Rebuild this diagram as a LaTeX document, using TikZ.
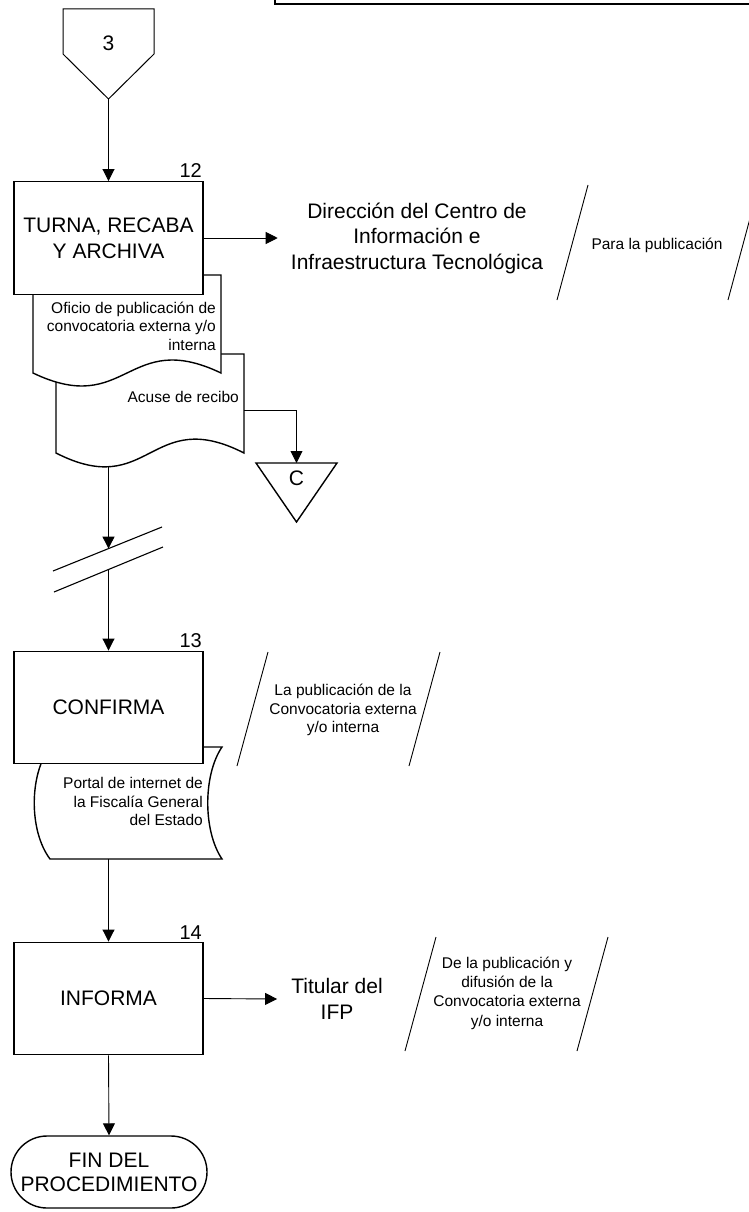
\documentclass[tikz,border=0pt]{standalone}
\usepackage{fontspec}
\setmainfont{Liberation Sans}
\usetikzlibrary{arrows.meta}
\begin{document}
\begin{tikzpicture}[x=1pt,y=-1pt,
  shapeline/.style={draw=black, line width=1.4pt, fill=white},
  procbox/.style={draw=black, line width=1.4pt, fill=white, minimum width=189pt, minimum height=112.5pt, inner sep=0pt, align=center, font=\fontsize{21}{26}\selectfont},
  bigtext/.style={align=center, inner sep=0pt, font=\fontsize{21}{25.5}\selectfont},
  smalltext/.style={align=center, inner sep=0pt, font=\fontsize{15.5}{18.5}\selectfont},
  numlabel/.style={anchor=base east, inner sep=0pt, font=\fontsize{20}{24}\selectfont},
  conn/.style={draw=black, line width=0.9pt},
  arrowc/.style={conn, -{Triangle[length=12pt,width=12pt]}},
  slash/.style={draw=black, line width=0.9pt},
]
\useasboundingbox (0,0) rectangle (749,1212);

% top-right frame remnant
\draw[line width=1.7pt] (275.3,-5) -- (275.3,4.3) -- (760,4.3);

% off-page connector 3
\path[shapeline, line width=1pt] (63,9) -- (154,9) -- (154,54) -- (108.5,99) -- (63,54) -- cycle;
\node[bigtext] (off3) at (108.5,43) {3};
\coordinate (off3tip) at (108.5,99);

% documents behind box 12
\path[shapeline] (56,354) -- (244,354) -- (244,453) .. controls (150,405) and (150,501) .. (56,453) -- cycle;
\path[shapeline] (33,275) -- (221,275) -- (221,373) .. controls (127,328) and (127,418) .. (33,373) -- cycle;
\node[procbox] (box12) at (108.5,238) {TURNA, RECABA\\Y ARCHIVA};
\node[numlabel] (n12) at (202,177) {12};
\node[smalltext, align=right, anchor=east] (oficio) at (216,326) {Oficio de publicación de\\convocatoria externa y/o\\interna};
\node[smalltext, anchor=east] (acuse) at (239,397) {Acuse de recibo};
\coordinate (doc2r) at (244,410);
\coordinate (doc2b) at (108.5,466.5);

\draw[arrowc] (off3tip) -- (box12.north);

% destination and flow label 1
\node[bigtext, inner xsep=13pt] (dir) at (417,238) {Dirección del Centro de\\Información e\\Infraestructura Tecnológica};
\draw[arrowc] (box12.east) -- (dir.west);
\draw[slash] (588,185) -- (557,300);
\draw[slash] (759,185) -- (728,300);
\node[smalltext] (p1) at (657,245) {Para la publicación};

% connector C
\path[shapeline] (256,463) -- (337,463) -- (296.5,522) -- cycle;
\node[bigtext] (ctri) at (296.5,478) {C};
\coordinate (ctop) at (296.5,463);
\draw[arrowc] (doc2r) -| (ctop);

% break
\coordinate (brk1) at (108.5,548.6);
\coordinate (brk2) at (108.5,569.5);
\draw[arrowc] (doc2b) -- (brk1);
\draw[line width=1.1pt] (53,571) -- (162,527);
\draw[line width=1.1pt] (54,592) -- (163,547);

% step 13
\path[shapeline] (50,747) -- (222,747) .. controls (203,775) and (203,831) .. (222,859) -- (50,859) .. controls (29,831) and (29,775) .. (50,747) -- cycle;
\node[procbox] (box13) at (108.5,707.5) {CONFIRMA};
\node[numlabel] (n13) at (202,647) {13};
\node[smalltext, align=right, anchor=east] (portal) at (203,801.5) {Portal de internet de\\la Fiscalía General\\del Estado};
\coordinate (doc3b) at (108.5,859);
\draw[arrowc] (brk2) -- (box13.north);
\draw[slash] (268,652) -- (237,766);
\draw[slash] (440,652) -- (409,766);
\node[smalltext] (p2) at (343,710) {La publicación de la\\Convocatoria externa\\y/o interna};

% step 14
\node[procbox] (box14) at (108.5,998.5) {INFORMA};
\node[numlabel] (n14) at (202,939) {14};
\draw[arrowc] (doc3b) -- (box14.north);
\node[bigtext, inner xsep=14pt] (tit) at (337,999) {Titular del\\IFP};
\draw[arrowc] (box14.east) -- (tit.west);
\draw[slash] (436,937) -- (405,1051);
\draw[slash] (608,937) -- (577,1051);
\node[smalltext, font=\fontsize{15.5}{19.3}\selectfont] (p3) at (507,993) {De la publicación y\\difusión de la\\Convocatoria externa\\y/o interna};

% end
\node[draw=black, line width=1.4pt, fill=white, rounded corners=36pt, minimum width=196pt, minimum height=72pt, inner sep=0pt, align=center, font=\fontsize{21}{24}\selectfont] (fin) at (109,1172) {FIN DEL\\PROCEDIMIENTO};
\draw[arrowc] (box14.south) -- (fin.north);
\end{tikzpicture}
\end{document}
